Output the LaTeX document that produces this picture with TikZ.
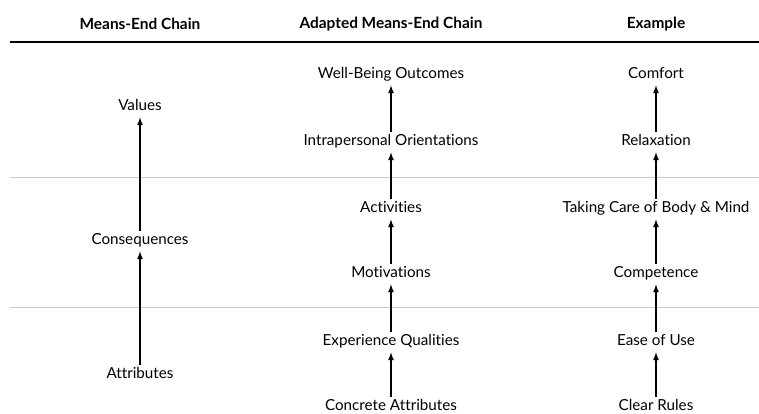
\documentclass[tikz,border=0pt]{standalone}
\usepackage{fontspec}
\setmainfont{Lato}[Ligatures=NoCommon]
\usepackage{tikz}
\definecolor{gray300}{HTML}{C8C8C8}
\usetikzlibrary{arrows}
\tikzstyle{stage}=[font=\fontsize{15.2}{18}\selectfont, text height=11pt, text depth=3.5pt, inner sep=3pt]
\tikzstyle{heading}=[font=\fontsize{15.4}{18}\selectfont\bfseries]
\tikzstyle{link}=[-latex, line width=1.6pt]

\begin{document}
\begin{tikzpicture}[x=1pt, y=-1pt]
				\useasboundingbox (0,0) rectangle (759,414);
				% rules
				\draw[line width=1.6pt] (10,42) -- (759,42);
				\draw[gray300, line width=0.9pt] (10,177) -- (759,177);
				\draw[gray300, line width=0.9pt] (10,307) -- (759,307);
				% headings
				\node[heading] (h1) at (140,24) {Means-End Chain};
				\node[heading] (h2) at (391,24) {Adapted Means-End Chain};
				\node[heading] (h3) at (656,24) {Example};
				% classic chain
				\node[stage] (values) at (140,107) {Values};
				\node[stage] (cons) at (140,241) {Consequences};
				\node[stage] (attr) at (140,375) {Attributes};
				% adapted chain
				\node[stage] (wbo) at (391,75) {Well-Being Outcomes};
				\node[stage] (io) at (391,142) {Intrapersonal Orientations};
				\node[stage] (act) at (391,209) {Activities};
				\node[stage] (mot) at (391,274) {Motivations};
				\node[stage] (eq) at (391,342) {Experience Qualities};
				\node[stage] (ca) at (391,407) {Concrete Attributes};
				% example
				\node[stage] (comf) at (656,75) {Comfort};
				\node[stage] (relax) at (656,142) {Relaxation};
				\node[stage] (care) at (656,209) {Taking Care of Body \& Mind};
				\node[stage] (comp) at (656,274) {Competence};
				\node[stage] (ease) at (656,342) {Ease of Use};
				\node[stage] (rules) at (656,407) {Clear Rules};
				\draw[link] (attr) -- (cons);
				\draw[link] (cons) -- (values);
				\draw[link] (ca) -- (eq);
				\draw[link] (eq) -- (mot);
				\draw[link] (mot) -- (act);
				\draw[link] (act) -- (io);
				\draw[link] (io) -- (wbo);
				\draw[link] (rules) -- (ease);
				\draw[link] (ease) -- (comp);
				\draw[link] (comp) -- (care);
				\draw[link] (care) -- (relax);
				\draw[link] (relax) -- (comf);
			\end{tikzpicture}
\end{document}
